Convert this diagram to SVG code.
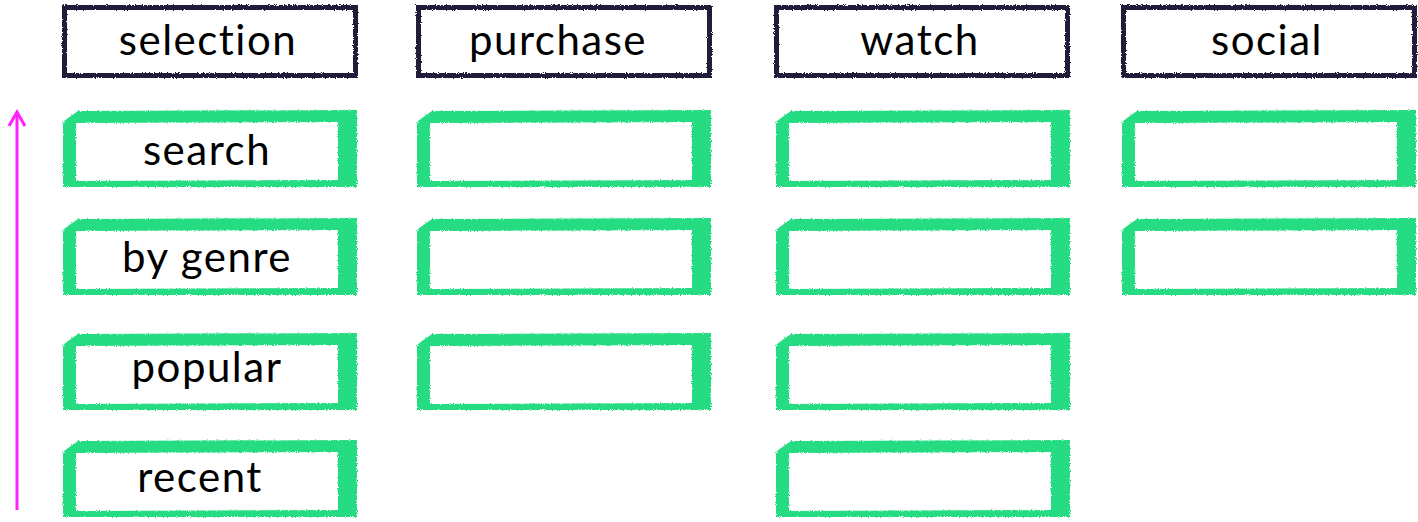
<svg xmlns="http://www.w3.org/2000/svg" width="1418" height="522" viewBox="0 0 1418 522">
<defs>
<style>
.hd{fill:none;stroke:#241a3a;stroke-width:5}
.gf{fill:#26dc82;fill-rule:evenodd}
.t{font-family:Lato,"Open Sans",sans-serif;font-weight:400;font-size:42px;letter-spacing:1.5px;fill:#000;text-anchor:middle}
</style>
<filter id="rough" x="-5%" y="-10%" width="110%" height="120%"><feTurbulence type="fractalNoise" baseFrequency="0.9" numOctaves="2" seed="3"/><feDisplacementMap in="SourceGraphic" scale="3"/></filter>
<path id="gframe" class="gf" d="M0,12 L5,8 L15,1 L294,0 L294,77 L0,77 Z M13,13 L275,12 L275,70 L13,71 Z"/>
<marker id="ah" markerWidth="18" markerHeight="20" refX="15" refY="10" orient="auto" markerUnits="userSpaceOnUse"><path d="M1,2 L15,10 L1,18" fill="none" stroke="#ff22ff" stroke-width="3"/></marker>
</defs>
<rect width="1418" height="522" fill="#fff"/>
<g id="connectors">
<line x1="17" y1="510" x2="17" y2="112" stroke="#ff22ff" stroke-width="3" marker-end="url(#ah)"/>
</g>
<g id="h-selection"><rect class="hd" x="64.5" y="7.5" width="291" height="68" filter="url(#rough)"/><text class="t" x="208" y="55">selection</text></g>
<g id="h-purchase"><rect class="hd" x="418.5" y="7.5" width="291" height="68" filter="url(#rough)"/><text class="t" x="558" y="55">purchase</text></g>
<g id="h-watch"><rect class="hd" x="776.5" y="7.5" width="291" height="68" filter="url(#rough)"/><text class="t" x="920" y="55">watch</text></g>
<g id="h-social"><rect class="hd" x="1123.5" y="7.5" width="291" height="68" filter="url(#rough)"/><text class="t" x="1267" y="55">social</text></g>
<g id="n-search"><use href="#gframe" x="63" y="110" filter="url(#rough)"/><text class="t" x="207" y="165">search</text></g>
<g id="n-genre"><use href="#gframe" x="63" y="218" filter="url(#rough)"/><text class="t" x="207" y="272">by genre</text></g>
<g id="n-popular"><use href="#gframe" x="63" y="333" filter="url(#rough)"/><text class="t" x="207" y="382">popular</text></g>
<g id="n-recent"><use href="#gframe" x="63" y="440" filter="url(#rough)"/><text class="t" x="200" y="492">recent</text></g>
<g id="n-p1"><use href="#gframe" x="417" y="110" filter="url(#rough)"/></g>
<g id="n-p2"><use href="#gframe" x="417" y="218" filter="url(#rough)"/></g>
<g id="n-p3"><use href="#gframe" x="417" y="333" filter="url(#rough)"/></g>
<g id="n-w1"><use href="#gframe" x="776" y="110" filter="url(#rough)"/></g>
<g id="n-w2"><use href="#gframe" x="776" y="218" filter="url(#rough)"/></g>
<g id="n-w3"><use href="#gframe" x="776" y="333" filter="url(#rough)"/></g>
<g id="n-w4"><use href="#gframe" x="776" y="440" filter="url(#rough)"/></g>
<g id="n-s1"><use href="#gframe" x="1122" y="110" filter="url(#rough)"/></g>
<g id="n-s2"><use href="#gframe" x="1122" y="218" filter="url(#rough)"/></g>
</svg>
